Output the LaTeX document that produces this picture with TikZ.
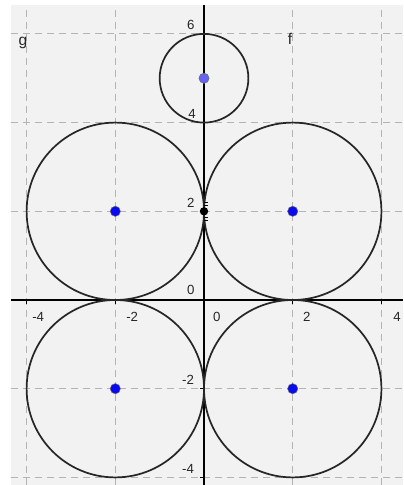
\documentclass[tikz,border=0pt]{standalone}
\usepackage{fontspec}
\setmainfont{Liberation Sans}
\definecolor{gridgray}{RGB}{180,180,180}
\definecolor{bggray}{RGB}{242,242,242}
\definecolor{ptblue}{RGB}{10,10,240}
\definecolor{ptlight}{RGB}{100,100,240}
\begin{document}
\begin{tikzpicture}[x=1cm,y=1cm,
  gridline/.style={draw=gridgray, line width=0.7pt, dash pattern=on 4.5pt off 3.2pt},
  axisline/.style={draw=black, line width=0.9pt},
  circ/.style={draw=black!85, line width=1.1pt},
  bluedot/.style={circle, fill=ptblue, draw=black!60, line width=0.3pt, inner sep=0pt, minimum size=0.23cm},
  lightdot/.style={circle, fill=ptlight, draw=black!60, line width=0.3pt, inner sep=0pt, minimum size=0.23cm},
  blackdot/.style={circle, fill=black, inner sep=0pt, minimum size=0.19cm},
  lab/.style={font=\fontsize{8.5}{10}\selectfont, inner sep=0pt, text=black!85},
  tick/.style={draw=black, line width=0.7pt}]
\useasboundingbox (-4.600,-4.171) rectangle (4.487,6.764);
\fill[white] (-4.600,-4.171) rectangle (4.487,6.764);
\fill[bggray] (-4.352,-4.171) rectangle (4.487,6.652);
% grid
\foreach \gx in {-4,-2,2,4} \draw[gridline] (\gx,-4.171) -- (\gx,6.652);
\foreach \gy in {-4,-2,2,4,6} \draw[gridline] (-4.352,\gy) -- (4.487,\gy);
% axes
\coordinate (xl) at (-4.352,0);
\coordinate (xr) at (4.487,0);
\coordinate (yb) at (0,-4.171);
\coordinate (yt) at (0,6.652);
\draw[axisline] (xl) -- (xr);
\draw[axisline] (yb) -- (yt);
\foreach \gx in {-4,-2,2,4} \draw[tick] (\gx,0) -- (\gx,-0.08);
\foreach \gy in {-4,-2,2,4,6} \draw[tick] (0,\gy) -- (-0.08,\gy);
% circles
\coordinate (c1) at (-2,2);
\coordinate (c2) at (2,2);
\coordinate (c3) at (-2,-2);
\coordinate (c4) at (2,-2);
\coordinate (c5) at (0,5);
\draw[circ] (c1) circle (2);
\draw[circ] (c2) circle (2);
\draw[circ] (c3) circle (2);
\draw[circ] (c4) circle (2);
\draw[circ] (c5) circle (1);
% tangent marks at (0,2)
\draw[tick] (0,2.2) -- (0.1,2.2);
\draw[tick] (0,2.13) -- (0.1,2.13);
\draw[tick] (0,1.87) -- (0.1,1.87);
\draw[tick] (0,1.80) -- (0.1,1.80);
% points
\node[bluedot] (p1) at (c1) {};
\node[bluedot] (p2) at (c2) {};
\node[bluedot] (p3) at (c3) {};
\node[bluedot] (p4) at (c4) {};
\node[lightdot] (p5) at (c5) {};
\node[blackdot] (p6) at (0,2) {};
% axis labels
\node[lab] (lx1) at (-3.74,-0.38) {-4};
\node[lab] (lx2) at (-1.62,-0.38) {-2};
\node[lab] (lx3) at (0.29,-0.38) {0};
\node[lab] (lx4) at (2.32,-0.38) {2};
\node[lab] (lx5) at (4.35,-0.38) {4};
\node[lab] (ly1) at (-0.30,6.2) {6};
\node[lab] (ly2) at (-0.27,4.2) {4};
\node[lab] (ly3) at (-0.30,2.2) {2};
\node[lab] (ly4) at (-0.30,0.22) {0};
\node[lab] (ly5) at (-0.36,-1.8) {-2};
\node[lab] (ly6) at (-0.36,-3.8) {-4};
% function labels
\node[lab, font=\fontsize{10}{11}\selectfont] (g) at (-4.08,5.79) {g};
\node[lab, font=\fontsize{10}{11}\selectfont] (f) at (1.94,5.88) {f};
\end{tikzpicture}
\end{document}
